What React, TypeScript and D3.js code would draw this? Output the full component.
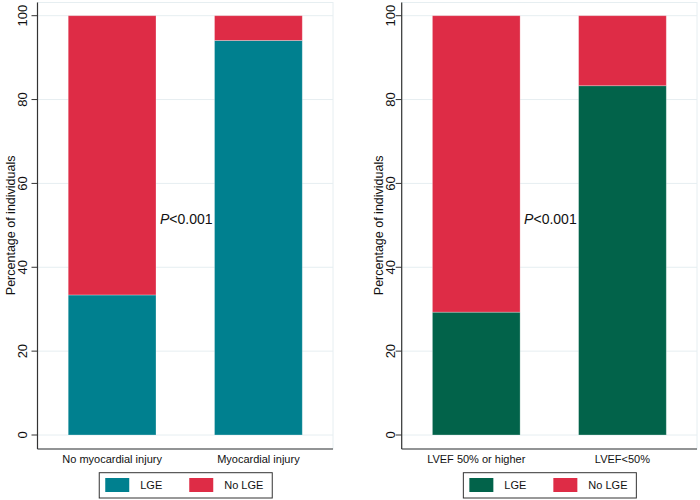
import React from "react";
import * as d3 from "d3";

const categoriesA = ["No myocardial injury", "Myocardial injury"];
const lgeA = [33.4, 94.1];
const noLgeA = [66.6, 5.9];

const categoriesB = ["LVEF 50% or higher", "LVEF<50%"];
const lgeB = [29.3, 83.3];
const noLgeB = [70.7, 16.7];

const yTicks = [0, 20, 40, 60, 80, 100];
const seriesNames = ["LGE", "No LGE"];
const pText = "<0.001";

const FONT = "'Liberation Sans', Arial, Helvetica, sans-serif";
const RED = "#DE2C46";

type PanelProps = {
  left: number;
  right: number;
  top: number;
  categories: string[];
  lge: number[];
  noLge: number[];
  color: string;
  tickX: number;
  labelX: number;
};

function Panel(p: PanelProps) {
  const yBottom = 449;
  const y = d3.scaleLinear().domain([0, 100]).range([435, 15.7]);
  const x = d3
    .scaleBand<string>()
    .domain(p.categories)
    .range([p.left, p.right])
    .paddingInner(0.4)
    .paddingOuter(0.21);
  const cx = (p.left + p.right) / 2;
  const stack = p.categories.map((c, i) => ({ c, lge: p.lge[i], no: p.noLge[i] }));
  const firstEnd = (x(p.categories[0]) as number) + x.bandwidth();
  return (
    <g>
      <rect x={p.left} y={p.top} width={p.right - p.left} height={yBottom - p.top} fill="none" stroke="#E6EEF1" strokeWidth={1} />
      {yTicks.map((t) => (
        <line key={"g" + t} x1={p.left} x2={p.right} y1={y(t)} y2={y(t)} stroke="#E6EEF1" strokeWidth={1} />
      ))}
      {stack.map((d) => {
        const bx = x(d.c) as number;
        const bw = x.bandwidth();
        return (
          <g key={d.c}>
            <rect x={bx} y={y(d.lge)} width={bw} height={y(0) - y(d.lge)} fill={p.color} stroke="rgba(255,255,255,0.35)" strokeWidth={0.8} />
            <rect x={bx} y={y(d.lge + d.no)} width={bw} height={y(d.lge) - y(d.lge + d.no)} fill={RED} stroke="rgba(255,255,255,0.35)" strokeWidth={0.8} />
          </g>
        );
      })}
      <line x1={p.left} x2={p.left} y1={p.top} y2={yBottom} stroke="#333" strokeWidth={1.2} />
      <line x1={p.left} x2={p.right} y1={yBottom} y2={yBottom} stroke="#333" strokeWidth={1.2} />
      {yTicks.map((t) => (
        <g key={"t" + t}>
          <line x1={p.left - 6} x2={p.left} y1={y(t)} y2={y(t)} stroke="#333" strokeWidth={1} />
          <text
            transform={`translate(${p.tickX},${y(t)}) rotate(-90)`}
            textAnchor="middle"
            fontFamily={FONT}
            fontSize={13}
            fill="#111"
          >
            {t}
          </text>
        </g>
      ))}
      <text
        transform={`translate(${p.labelX},${(y(0) + y(100)) / 2}) rotate(-90)`}
        textAnchor="middle"
        fontFamily={FONT}
        fontSize={12.5}
        fill="#111"
      >
        Percentage of individuals
      </text>
      {p.categories.map((c) => (
        <text key={"c" + c} x={(x(c) as number) + x.bandwidth() / 2} y={463} textAnchor="middle" fontFamily={FONT} fontSize={11} fill="#111">
          {c}
        </text>
      ))}
      <text x={firstEnd + 4} y={224} fontFamily={FONT} fontSize={14} fill="#111">
        <tspan fontStyle="italic">P</tspan>
        {pText}
      </text>
      <rect x={cx - 86} y={472.7} width={173} height={25.3} fill="white" stroke="#333" strokeWidth={1} />
      <rect x={cx - 80} y={478} width={24} height={14} fill={p.color} />
      <text x={cx - 45} y={489} fontFamily={FONT} fontSize={11} fill="#111">
        {seriesNames[0]}
      </text>
      <rect x={cx + 4} y={478} width={24} height={14} fill={RED} />
      <text x={cx + 39} y={489} fontFamily={FONT} fontSize={11} fill="#111">
        {seriesNames[1]}
      </text>
    </g>
  );
}

export default function App() {
  return (
    <svg width={700} height={500} style={{ position: "absolute", left: 0, top: 0, background: "white" }}>
      <rect width={700} height={500} fill="white" />
      <Panel left={37.5} right={333} top={2.5} categories={categoriesA} lge={lgeA} noLge={noLgeA} color="#00808F" tickX={27} labelX={15} />
      <Panel left={401.7} right={697} top={2.5} categories={categoriesB} lge={lgeB} noLge={noLgeB} color="#02634A" tickX={395} labelX={383} />
    </svg>
  );
}
